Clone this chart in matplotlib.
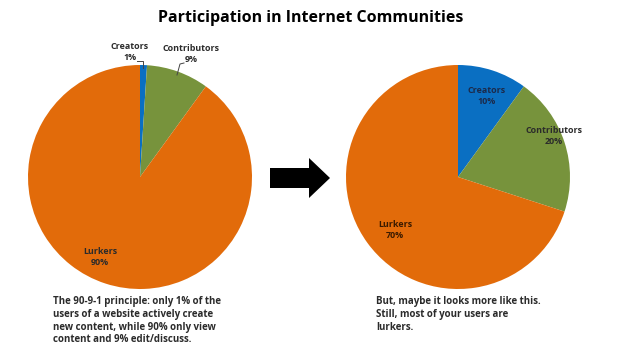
import matplotlib.pyplot as plt
from matplotlib.patches import FancyArrow

# data
groups = ["Creators", "Contributors", "Lurkers"]
share_principle = [1, 9, 90]
share_maybe = [10, 20, 70]
colors = ["#0A6FC2", "#77933C", "#E26B0A"]

caption_left = ("The 90-9-1 principle: only 1% of the\n"
                "users of a website actively create\n"
                "new content, while 90% only view\n"
                "content and 9% edit/discuss.")
caption_right = ("But, maybe it looks more like this.\n"
                 "Still, most of your users are\n"
                 "lurkers.")

W, H = 625, 351
plt.rcParams['font.family'] = ['Open Sans', 'DejaVu Sans']

fig = plt.figure(figsize=(W / 100, H / 100), dpi=100)
ax = fig.add_axes([0, 0, 1, 1])

def y(py):
    return H - py

ax.pie(share_principle, colors=colors, startangle=90, counterclock=False,
       center=(140, y(177)), radius=112, frame=True)
ax.pie(share_maybe, colors=colors, startangle=90, counterclock=False,
       center=(458, y(177)), radius=112, frame=True)
ax.set_xlim(0, W)
ax.set_ylim(0, H)
ax.set_aspect('equal')
ax.axis('off')

lab = dict(fontsize=6.4, fontweight='bold', color='#2b2b2b', ha='center',
           va='center', linespacing=1.35)

# left pie labels
ax.text(130, y(52), "Creators\n1%", **lab)
ax.plot([137, 143, 143], [y(61), y(61), y(68)], color='#444444', lw=0.7)
ax.text(191, y(54), "Contributors\n9%", **lab)
ax.plot([184, 180, 177], [y(63), y(64), y(75)], color='#444444', lw=0.7)
ax.text(100, y(257), "Lurkers\n90%", **lab)

# right pie labels
ax.text(487, y(96), "Creators\n10%", **dict(lab, color='#1c2a4a'))
ax.text(554, y(136), "Contributors\n20%", **lab)
ax.text(395, y(230), "Lurkers\n70%", **dict(lab, color='#3a1a00'))

# arrow
ax.add_patch(FancyArrow(270, y(178), 39, 0, width=20, head_width=40,
                        head_length=21, length_includes_head=False,
                        color='black', lw=0))

ax.text(W / 2 - 2, y(17.5), "Participation in Internet Communities",
        fontsize=11.5, fontweight='bold', color='black', ha='center',
        va='center')

cap = dict(fontsize=7.0, fontweight='bold', color='#2b2b2b', ha='left',
           va='top', linespacing=1.22)
ax.text(53, y(296), caption_left, **cap)
ax.text(376, y(296), caption_right, **cap)

fig.savefig("out.png", dpi=100)
